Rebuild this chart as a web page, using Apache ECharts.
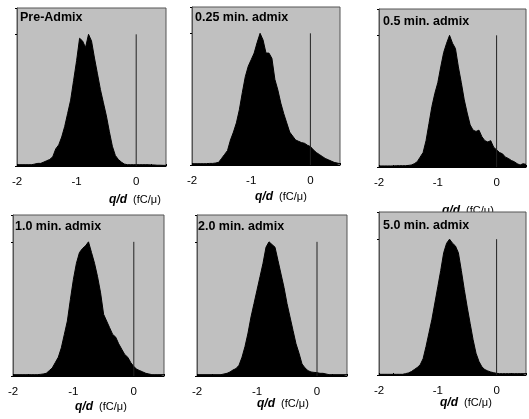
<!DOCTYPE html>
<html><head><meta charset="utf-8">
<script src="https://cdn.jsdelivr.net/npm/echarts@6/dist/echarts.min.js"></script>
<style>html,body{margin:0;padding:0;background:#fff}#c{width:529px;height:419px}</style>
</head><body><div id="c"></div>
<script>
// q/d bin positions (fC/μ)
const bins = [-2.00,-1.95,-1.90,-1.85,-1.80,-1.75,-1.70,-1.65,-1.60,-1.55,-1.50,-1.45,-1.40,-1.35,-1.30,-1.25,-1.20,-1.15,-1.10,-1.05,-1.00,-0.95,-0.90,-0.85,-0.80,-0.75,-0.70,-0.65,-0.60,-0.55,-0.50,-0.45,-0.40,-0.35,-0.30,-0.25,-0.20,-0.15,-0.10,-0.05,0.00,0.05,0.10,0.15,0.20,0.25,0.30,0.35,0.40,0.45,0.50];
const panelTitles = ["Pre-Admix","0.25 min. admix","0.5 min. admix","1.0 min. admix","2.0 min. admix","5.0 min. admix"];
const xTickLabels = ["-2","-1","0"];
const preAdmix = [0.01,0.01,0.01,0.01,0.01,0.01,0.015,0.02,0.02,0.03,0.04,0.05,0.07,0.13,0.16,0.22,0.30,0.40,0.50,0.65,0.80,0.97,0.95,0.90,1.00,0.95,0.82,0.70,0.58,0.48,0.38,0.26,0.15,0.08,0.05,0.03,0.015,0.01,0.01,0.01,0.01,0.01,0.01,0.01,0.01,0.008,0.008,0.006,0.006,0.005,0.005];
const admix025 = [0.01,0.01,0.01,0.01,0.01,0.01,0.012,0.012,0.015,0.02,0.05,0.08,0.11,0.19,0.25,0.32,0.42,0.55,0.67,0.75,0.80,0.85,0.93,1.00,0.95,0.85,0.85,0.81,0.65,0.57,0.47,0.39,0.32,0.25,0.22,0.19,0.18,0.17,0.165,0.15,0.14,0.115,0.095,0.08,0.065,0.05,0.04,0.03,0.02,0.015,0.01];
const admix05 = [0.008,0.008,0.008,0.008,0.008,0.008,0.01,0.01,0.01,0.01,0.012,0.015,0.025,0.04,0.075,0.11,0.20,0.33,0.46,0.56,0.64,0.76,0.87,0.94,1.00,0.94,0.90,0.76,0.64,0.51,0.41,0.32,0.28,0.27,0.28,0.23,0.20,0.19,0.20,0.15,0.13,0.11,0.10,0.075,0.065,0.05,0.04,0.025,0.015,0.025,0.02];
const admix10 = [0.01,0.01,0.01,0.01,0.01,0.01,0.01,0.01,0.01,0.012,0.015,0.02,0.04,0.06,0.10,0.14,0.21,0.31,0.41,0.57,0.72,0.84,0.92,0.95,0.97,1.00,0.92,0.84,0.74,0.62,0.46,0.41,0.36,0.31,0.29,0.24,0.20,0.16,0.14,0.10,0.07,0.05,0.04,0.03,0.02,0.015,0.01,0.01,0.01,0.01,0.01];
const admix20 = [0.01,0.01,0.01,0.01,0.01,0.01,0.01,0.01,0.01,0.015,0.02,0.03,0.045,0.055,0.08,0.14,0.22,0.32,0.44,0.54,0.64,0.74,0.84,0.96,1.00,0.98,0.96,0.86,0.76,0.66,0.54,0.44,0.34,0.24,0.17,0.09,0.06,0.04,0.03,0.027,0.025,0.02,0.02,0.015,0.01,0.01,0.01,0.01,0.01,0.01,0.01];
const admix50 = [0.005,0.005,0.005,0.005,0.005,0.005,0.005,0.005,0.005,0.01,0.015,0.025,0.04,0.055,0.075,0.12,0.21,0.31,0.41,0.53,0.65,0.77,0.90,0.97,1.00,0.97,0.95,0.90,0.77,0.63,0.50,0.38,0.26,0.16,0.10,0.06,0.04,0.03,0.022,0.017,0.012,0.01,0.01,0.01,0.01,0.01,0.01,0.01,0.01,0.01,0.01];
const zeroLine = [[0,0],[0,1]];

const panels = [preAdmix, admix025, admix05, admix10, admix20, admix50];
const grids = [
  {left:17,top:8,width:149,height:158},
  {left:192,top:7,width:148,height:158},
  {left:379,top:9,width:149,height:158},
  {left:13,top:215,width:151,height:161},
  {left:197,top:215,width:150,height:161},
  {left:379,top:212,width:153,height:163}
];
const titlePos = [[20,11],[195,11],[383,15],[15,220],[198,220],[383,219]];
const namePos = [[109,194],[255,191],[442,205],[75,401],[257,398],[440,397]];

const FONT = '"Liberation Sans", Arial, sans-serif';
const option = {
  animation:false,
  backgroundColor:'#fff',
  grid: grids.map(g => Object.assign({show:true,backgroundColor:'#c0c0c0',borderColor:'#555',borderWidth:1}, g)),
  xAxis: grids.map((g,i) => ({
    type:'value', gridIndex:i, min:-2, max:0.5, interval:0.25,
    axisLine:{show:true,onZero:false,lineStyle:{color:'#000',width:1}},
    axisTick:{show:true,inside:true,length:2,lineStyle:{color:'#000'}},
    splitLine:{show:false},
    axisLabel:{show:true,margin:10,color:'#000',fontSize:11.5,fontFamily:FONT,
      formatter:v => { const k = xTickLabels.indexOf(String(v)); return k>=0 ? xTickLabels[k] : ''; }}
  })),
  yAxis: grids.map((g,i) => ({
    type:'value', gridIndex:i, min:0, max:1.2, interval:1,
    axisLine:{show:true,onZero:false,lineStyle:{color:'#555'}},
    axisTick:{show:true,inside:false,length:2,lineStyle:{color:'#000'}},
    splitLine:{show:false}, axisLabel:{show:false}
  })),
  title: [
    ...panelTitles.map((t,i) => ({text:t,left:titlePos[i][0],top:titlePos[i][1],padding:0,
      textStyle:{fontSize:12.5,fontWeight:'bold',color:'#000',fontFamily:FONT}})),
    ...grids.map((g,i) => ({text:'{a|q/d}  {b|(fC/\u03bc)}',left:namePos[i][0],top:namePos[i][1],padding:0,z:-1,
      textStyle:{fontSize:11,fontWeight:'normal',color:'#000',fontFamily:FONT,
        rich:{a:{fontSize:12,fontWeight:'bold',fontStyle:'italic',color:'#000',fontFamily:FONT},
              b:{fontSize:11,fontWeight:'normal',color:'#000',fontFamily:FONT}}}}))
  ],
  series: [
    ...panels.map((vals,i) => ({
      type:'line', xAxisIndex:i, yAxisIndex:i, showSymbol:false, symbol:'none',
      data: bins.map((b,k) => [b, vals[k]]),
      lineStyle:{color:'#000',width:1}, areaStyle:{color:'#000',opacity:1}, z:2
    })),
    ...panels.map((vals,i) => ({
      type:'line', xAxisIndex:i, yAxisIndex:i, symbol:'none', data:zeroLine,
      lineStyle:{color:'#222',width:1}, z:3
    }))
  ]
};
echarts.init(document.getElementById('c')).setOption(option);
</script></body></html>
